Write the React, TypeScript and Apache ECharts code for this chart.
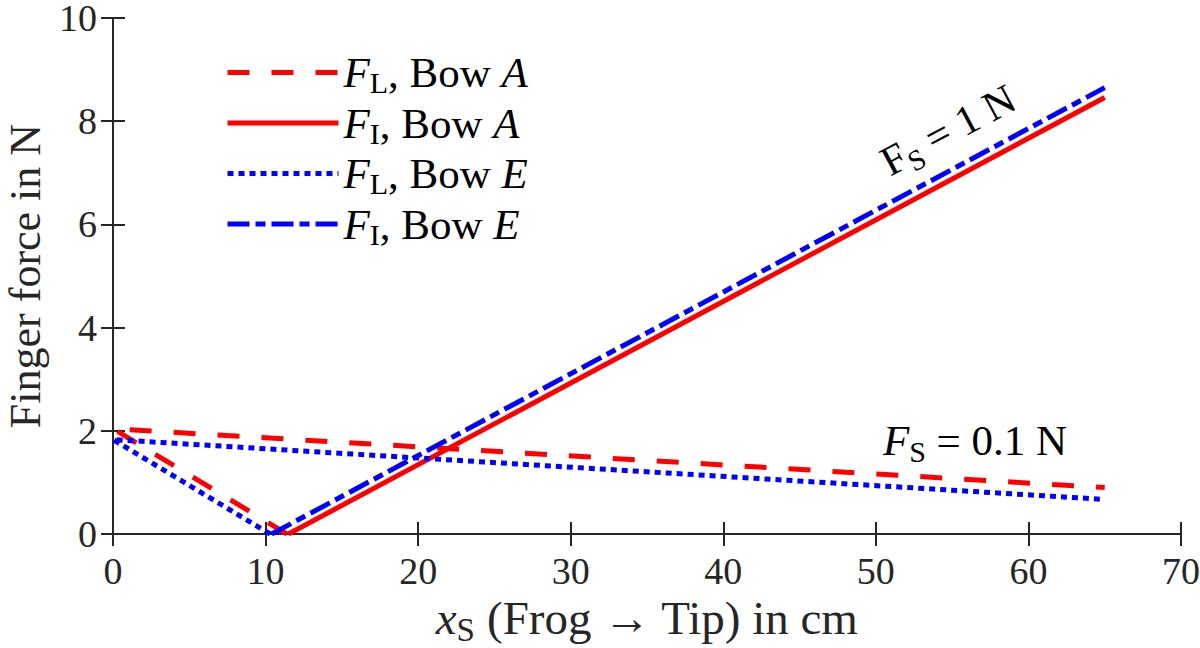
import React, { useEffect, useRef } from "react";
import * as echarts from "echarts";

const FONT = '"Liberation Serif", "Times New Roman", serif';
const AXIS_COLOR = "#262626";

// Series data: [x in cm, force in N]
const flBowA: number[][] = [[11.4, 0], [0, 2.04], [65, 0.9]];
const fiBowA: number[][] = [[11.5, 0], [65, 8.46]];
const flBowE: number[][] = [[10.3, 0], [0, 1.83], [65, 0.67]];
const fiBowE: number[][] = [[10.4, 0], [65, 8.65]];

const seriesNames = ["F_L, Bow A", "F_I, Bow A", "F_L, Bow E", "F_I, Bow E"];
const legendRich: Record<string, string> = {
  "F_L, Bow A": "{i|F}{s|L}{n|, Bow }{i|A}",
  "F_I, Bow A": "{i|F}{s|I}{n|, Bow }{i|A}",
  "F_L, Bow E": "{i|F}{s|L}{n|, Bow }{i|E}",
  "F_I, Bow E": "{i|F}{s|I}{n|, Bow }{i|E}",
};

const xRange = [0, 70, 10];
const yRange = [0, 10, 2];

const richStyles = (size: number, lh: number, color = "#000") => ({
  i: { fontFamily: FONT, fontSize: size, fontStyle: "italic", lineHeight: lh, color },
  n: { fontFamily: FONT, fontSize: size, lineHeight: lh, color },
  s: {
    fontFamily: FONT,
    fontSize: Math.round(size * 0.7),
    lineHeight: lh - 20,
    verticalAlign: "bottom",
    color,
  },
});

export default function App() {
  const ref = useRef<HTMLDivElement>(null);
  useEffect(() => {
    if (!ref.current) return;
    const chart = echarts.init(ref.current, undefined, { renderer: "svg" });
    const axisCommon = {
      type: "value" as const,
      splitLine: { show: false },
      axisLine: { show: true, lineStyle: { color: AXIS_COLOR, width: 2 } },
      axisTick: { show: true, inside: true, length: 12, lineStyle: { color: AXIS_COLOR, width: 2 } },
    };
    const labelStyle = { fontFamily: FONT, fontSize: 38, lineHeight: 28, color: AXIS_COLOR };
    chart.setOption({
      animation: false,
      backgroundColor: "#ffffff",
      grid: { left: 113, right: 19, top: 18, bottom: 114, outerBoundsMode: "none", containLabel: false },
      xAxis: [
        {
          ...axisCommon,
          position: "bottom",
          min: xRange[0],
          max: xRange[1],
          interval: xRange[2],
          axisLabel: { ...labelStyle, margin: 23 },
          name: "{i|x}{s|S}{n| (Frog → Tip) in cm}",
          nameLocation: "middle",
          nameGap: 55,
          nameTextStyle: { fontFamily: FONT, fontSize: 47, color: AXIS_COLOR, rich: richStyles(47, 56, AXIS_COLOR) },
        },
        {
          ...axisCommon,
          position: "top",
          min: xRange[0],
          max: xRange[1],
          interval: xRange[2],
          axisLabel: { show: false },
        },
      ],
      yAxis: [
        {
          ...axisCommon,
          position: "left",
          min: yRange[0],
          max: yRange[1],
          interval: yRange[2],
          axisLabel: { ...labelStyle, margin: 16 },
          name: "Finger force in N",
          nameLocation: "middle",
          nameRotate: 90,
          nameGap: 66,
          nameTextStyle: { fontFamily: FONT, fontSize: 44, color: AXIS_COLOR },
        },
        {
          ...axisCommon,
          position: "right",
          min: yRange[0],
          max: yRange[1],
          interval: yRange[2],
          axisLabel: { show: false },
        },
      ],
      legend: {
        orient: "vertical",
        left: 220,
        top: 46,
        itemWidth: 111,
        itemHeight: 14,
        itemGap: 4,
        data: seriesNames,
        formatter: (name: string) => legendRich[name] || name,
        lineStyle: { width: 5 },
        itemStyle: { opacity: 0, borderWidth: 0 },
        textStyle: { fontFamily: FONT, fontSize: 43, color: "#000", rich: richStyles(43, 50) },
      },
      series: [
        {
          name: seriesNames[0],
          type: "line",
          data: flBowA,
          symbol: "none",
          symbolSize: 0,
          lineStyle: { color: "#ff0000", width: 5, type: [22, 22], cap: "butt" },
          itemStyle: { color: "#ff0000" },
        },
        {
          name: seriesNames[1],
          type: "line",
          data: fiBowA,
          symbol: "none",
          symbolSize: 0,
          lineStyle: { color: "#ff0000", width: 5, type: "solid", cap: "butt" },
          itemStyle: { color: "#ff0000" },
        },
        {
          name: seriesNames[2],
          type: "line",
          data: flBowE,
          symbol: "none",
          symbolSize: 0,
          lineStyle: { color: "#0000ff", width: 5, type: [6, 5], cap: "butt" },
          itemStyle: { color: "#0000ff" },
        },
        {
          name: seriesNames[3],
          type: "line",
          data: fiBowE,
          symbol: "none",
          symbolSize: 0,
          lineStyle: { color: "#0000ff", width: 5, type: [22, 6, 10, 6], cap: "butt" },
          itemStyle: { color: "#0000ff" },
        },
      ],
      graphic: [
        {
          type: "text",
          x: 948,
          y: 130,
          rotation: 0.49,
          style: {
            text: "{n|F}{s|S}{n| = 1 N}",
            align: "center",
            verticalAlign: "middle",
            rich: richStyles(42, 52),
          },
        },
        {
          type: "text",
          x: 975,
          y: 440,
          style: {
            text: "{i|F}{s|S}{n| = 0.1 N}",
            align: "center",
            verticalAlign: "middle",
            rich: richStyles(43, 52),
          },
        },
      ],
    });
    return () => chart.dispose();
  }, []);
  return (
    <div
      ref={ref}
      style={{ position: "fixed", left: 0, top: 0, width: 1200, height: 648, background: "#fff" }}
    />
  );
}
